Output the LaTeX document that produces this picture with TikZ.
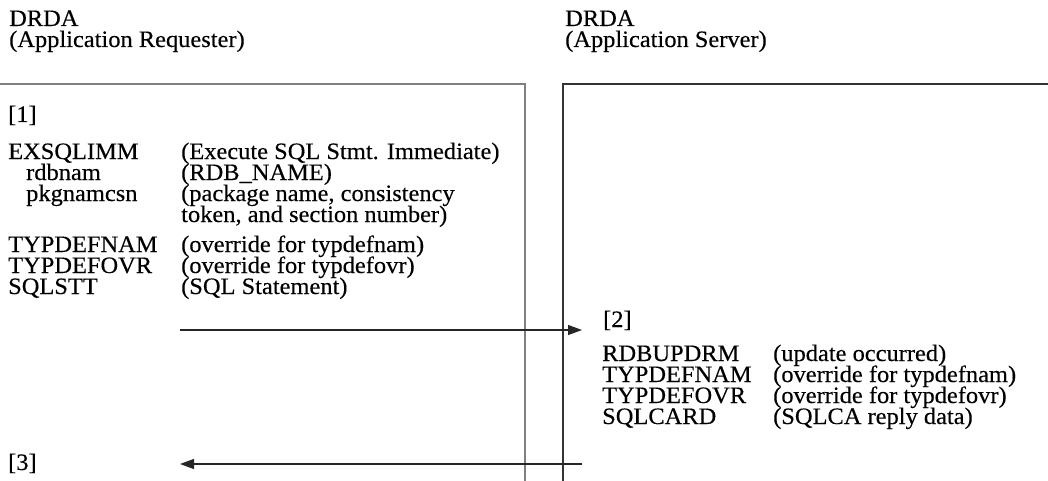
\documentclass[tikz,border=0pt]{standalone}
\usepackage{fontspec}
\setmainfont{Liberation Serif}[FakeStretch=1.04,FakeBold=0.3]
\usetikzlibrary{arrows.meta}
% diagram text: tight leading, lines never pushed apart
\newcommand\diagfont{\fontsize{23.5}{21}\selectfont\lineskiplimit=-100pt\relax}
\begin{document}
\begin{tikzpicture}[x=1pt,y=-1pt,
  txt/.style={anchor=base west,inner sep=0pt,align=left,font=\diagfont},
  lbox/.style={draw=black!50,line width=1.2pt},
  rbox/.style={draw=black!80,line width=1.2pt},
  msg/.style={draw=black!85,line width=1.2pt,-{Triangle[length=14pt,width=10pt]}}]
\useasboundingbox (0,0) rectangle (1048,481);

% column headers (a multi-line node sits on its last baseline)
\node[txt] (reqHead) at (9,47) {DRDA\\(Application Requester)};
\node[txt] (srvHead) at (565,47) {DRDA\\(Application Server)};

% side frames
\draw[lbox] (0,84) -- (525,84) -- (525,481);
\draw[rbox] (1048,84) -- (563,84) -- (563,481);

% requester: request data stream
\node[txt] (s1) at (8,122) {[1]};
\node[txt] (reqKeys) at (8,294)
  {EXSQLIMM\\\hspace*{18pt}rdbnam\\\hspace*{18pt}pkgnamcsn\\[30pt]
   TYPDEFNAM\\TYPDEFOVR\\SQLSTT};
\node[txt] (reqText) at (181,294)
  {(Execute SQL Stmt. Immediate)\\(RDB\_NAME)\\(package name, consistency\\
   token, and section number)\\[9pt]
   (override for typdefnam)\\(override for typdefovr)\\(SQL Statement)};

% server: reply data stream
\node[txt] (s2) at (603,327) {[2]};
\node[txt] (repKeys) at (602,424)
  {RDBUPDRM\\TYPDEFNAM\\TYPDEFOVR\\SQLCARD};
\node[txt] (repText) at (773,424)
  {(update occurred)\\(override for typdefnam)\\(override for typdefovr)\\(SQLCA reply data)};

\node[txt] (s3) at (8,470) {[3]};

% flows between requester and server
\coordinate (reqFrom) at (180,330);
\coordinate (reqTo) at (582,330);
\coordinate (repFrom) at (582,464);
\coordinate (repTo) at (180,464);
\draw[msg] (reqFrom) -- (reqTo);
\draw[msg] (repFrom) -- (repTo);
\end{tikzpicture}
\end{document}
